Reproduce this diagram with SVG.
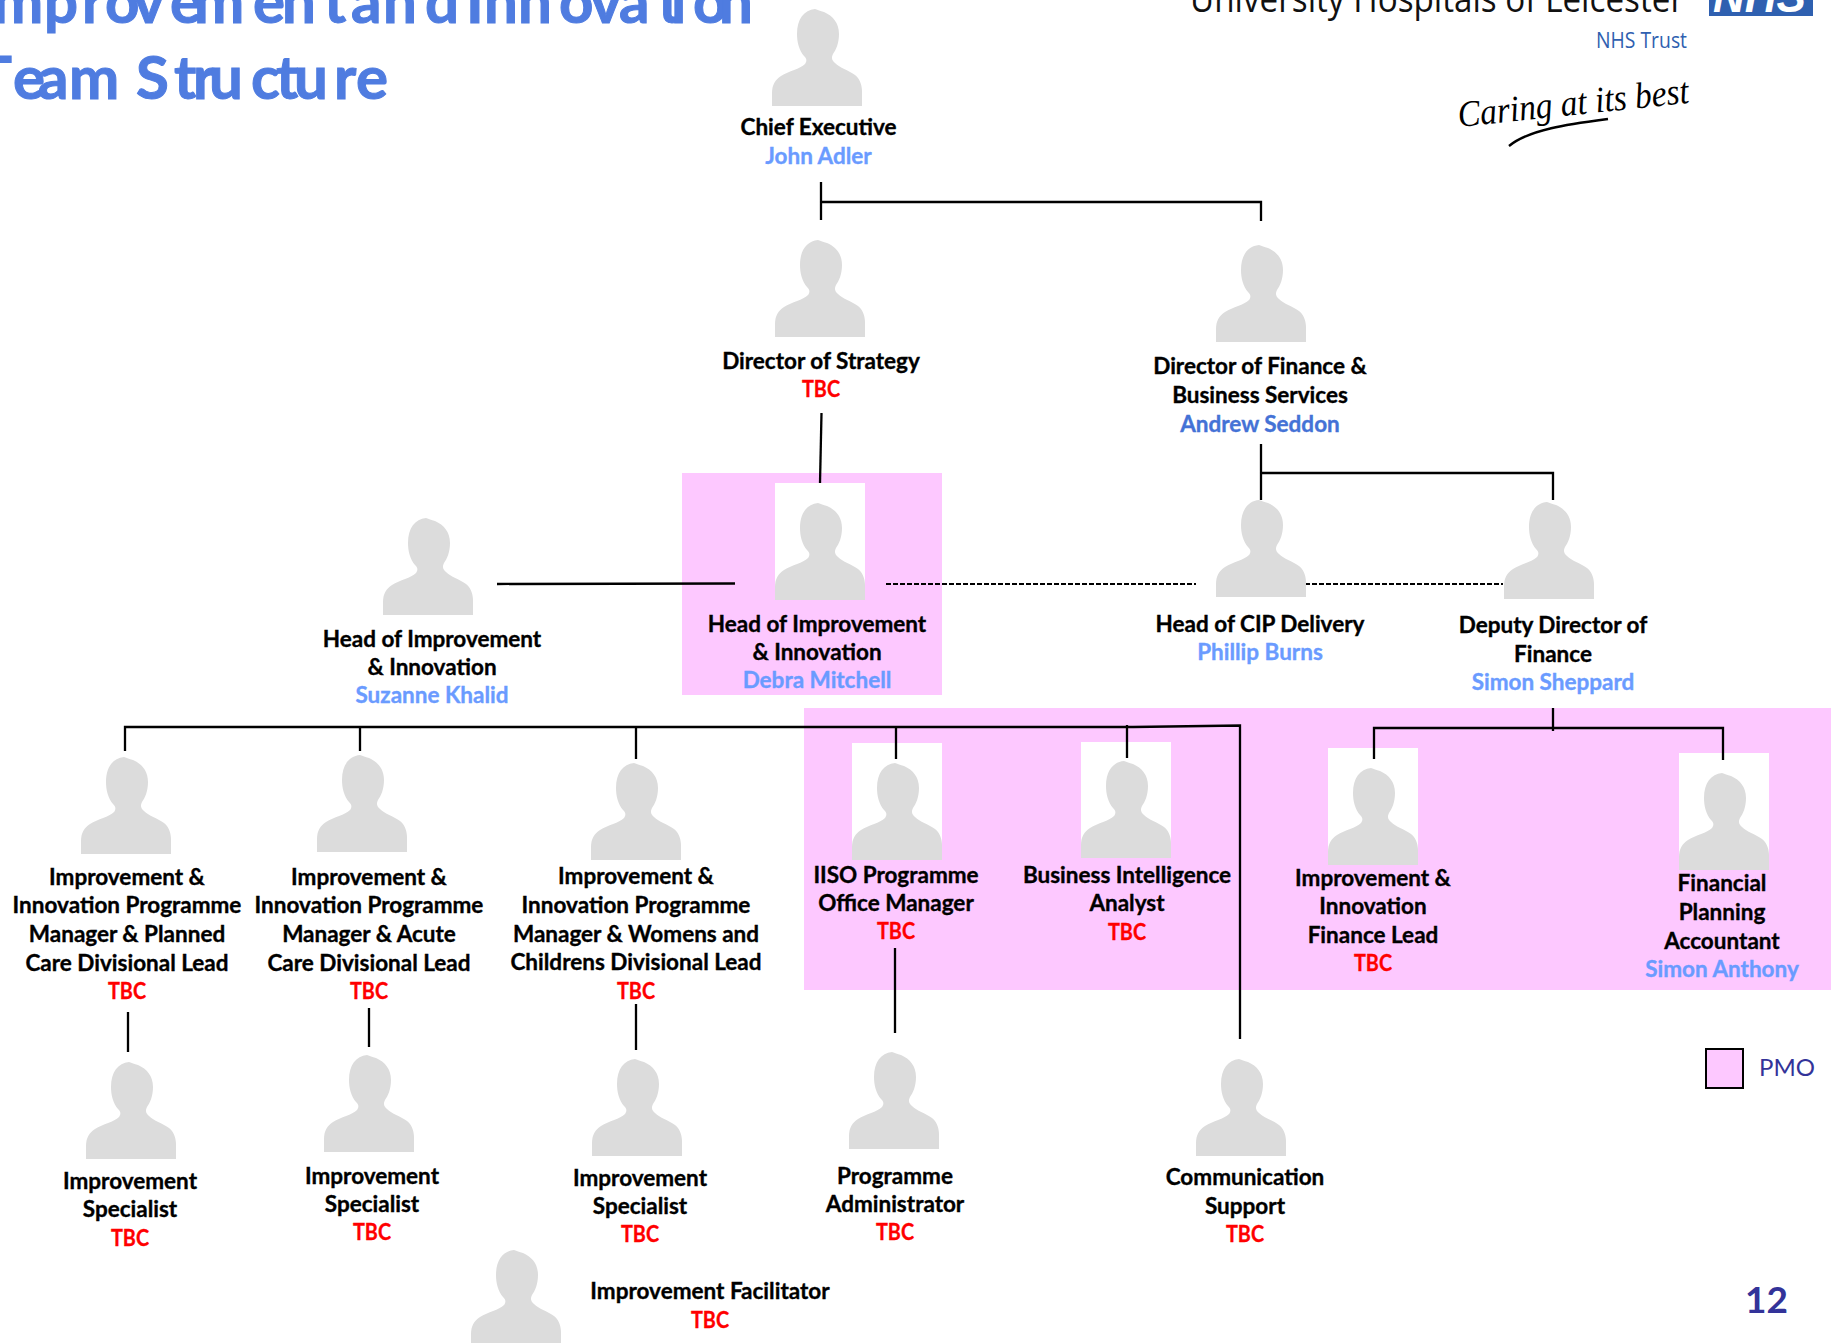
<svg xmlns="http://www.w3.org/2000/svg" width="1831" height="1343" viewBox="0 0 1831 1343">
<style>
text{font-family:"Lato","Liberation Sans",sans-serif}
.t,.r,.n,.d{font-size:22.5px;font-weight:700;text-anchor:middle;stroke-width:.35px}
.t{fill:#000;stroke:#000}.r{fill:#f00;stroke:#f00}.n{fill:#6a9bff;stroke:#6a9bff}.d{fill:#4472d6;stroke:#4472d6}
.c{stroke:#000;stroke-width:2.3;fill:none}
.dash{stroke:#000;stroke-width:1.8;fill:none;stroke-dasharray:5 2}
.p{fill:#fdc8ff}.w{fill:#fff}
.title{font-size:60px;font-weight:700;fill:#4f7ce0;stroke:#4f7ce0;stroke-width:1px}
</style>
<defs>
<path id="sil" fill="#dcdcdc" d="M0 97V84C0 76 3 71 9 67C17 62 28 60 33 55C35 52 35 50 32 47C27 41 25 33 25 25C25 10 32 1 43 0C46 1 48 2 52 3C61 7 67 14 67 25C67 34 64 41 61 45C59 49 60 51 63 54C68 59 76 61 83 66C87 69 90 75 90 82V97Z"/>
</defs>
<rect width="1831" height="1343" fill="#fff"/>
<g id="backgrounds">
<rect class="p" x="682" y="473" width="260" height="222"/>
<rect class="p" x="804" y="708" width="1027" height="282"/>
<rect class="w" x="775" y="483" width="90" height="117"/>
<rect class="w" x="852" y="743" width="90" height="117"/>
<rect class="w" x="1081" y="742" width="90" height="116"/>
<rect class="w" x="1328" y="748" width="90" height="117"/>
<rect class="w" x="1679" y="753" width="90" height="117"/>
</g>
<g id="header">
<text class="title" x="-22 -7 44 82 105 133 170 194 253 282 324 345 351 383 425 460 466 484 518 559 590 619 658 671 693 719" y="23">Improvement and Innovation</text>
<text class="title" x="-24 13 38 69 120 136 174 193 209 251 276 294 334 356" y="99">Team Structure</text>
<text x="1190" y="12" font-size="36" fill="#111" style="font-family:'Open Sans',sans-serif" textLength="494" lengthAdjust="spacingAndGlyphs">University Hospitals of Leicester</text>
<rect x="1709" y="-10" width="104" height="26" fill="#2f60b0"/>
<text x="1713" y="12" font-size="46" font-weight="700" font-style="italic" fill="#fff" style="font-family:'Liberation Sans',sans-serif" textLength="93" lengthAdjust="spacingAndGlyphs">NHS</text>
<text x="1596" y="48" font-size="21" fill="#2f60b0" style="font-family:'Open Sans',sans-serif" textLength="91" lengthAdjust="spacingAndGlyphs">NHS Trust</text>
<text transform="translate(1459 127) rotate(-6)" font-size="37" font-style="italic" fill="#000" style="font-family:'Liberation Serif',serif" textLength="232" lengthAdjust="spacingAndGlyphs">Caring at its best</text>
<path d="M1509 146C1530 129 1570 124 1608 119" stroke="#000" stroke-width="2.4" fill="none"/>
</g>
<g id="connectors">
<path class="c" d="M821 182V220M821 202H1261V221"/>
<path class="c" d="M821.500 413L820 483"/>
<path class="c" d="M497 584L735 583.500"/>
<path class="dash" d="M886 584H1196M1305 584H1503"/>
<path class="c" d="M1261 444V500M1261 473H1553V500"/>
<path class="c" d="M125 751V727H1133L1240 725.500V1039M360 727V751M636 727V759M896 727V759M1127 725V758"/>
<path class="c" d="M1553 708V731M1374 759V728H1723V760"/>
<path class="c" d="M128 1012V1052M369 1008V1047M636 1004V1050M895 948V1033"/>
</g>
<g id="n-chief"><use href="#sil" x="772" y="9"/><text class="t" x="818.500" y="135">Chief Executive</text><text class="n" x="818.500" y="164">John Adler</text></g>
<g id="n-strategy"><use href="#sil" x="775" y="240"/><text class="t" x="821" y="369">Director of Strategy</text><text class="r" x="821" y="397" textLength="38" lengthAdjust="spacingAndGlyphs">TBC</text></g>
<g id="n-finance"><use href="#sil" x="1216" y="245"/><text class="t" x="1260" y="374">Director of Finance &amp;</text><text class="t" x="1260" y="403">Business Services</text><text class="d" x="1260" y="432">Andrew Seddon</text></g>
<g id="n-suzanne"><use href="#sil" x="383" y="518"/><text class="t" x="432" y="647">Head of Improvement</text><text class="t" x="432" y="675">&amp; Innovation</text><text class="n" x="432" y="703">Suzanne Khalid</text></g>
<g id="n-debra"><use href="#sil" x="775" y="503"/><text class="t" x="817" y="632">Head of Improvement</text><text class="t" x="817" y="660">&amp; Innovation</text><text class="n" x="817" y="688">Debra Mitchell</text></g>
<g id="n-cip"><use href="#sil" x="1216" y="500"/><text class="t" x="1260" y="632">Head of CIP Delivery</text><text class="n" x="1260" y="660">Phillip Burns</text></g>
<g id="n-deputy"><use href="#sil" x="1504" y="502"/><text class="t" x="1553" y="633">Deputy Director of</text><text class="t" x="1553" y="662">Finance</text><text class="n" x="1553" y="690">Simon Sheppard</text></g>
<g id="n-planned"><use href="#sil" x="81" y="757"/><text class="t" x="127" y="885">Improvement &amp;</text><text class="t" x="127" y="913">Innovation Programme</text><text class="t" x="127" y="942">Manager &amp; Planned</text><text class="t" x="127" y="971">Care Divisional Lead</text><text class="r" x="127" y="999" textLength="38" lengthAdjust="spacingAndGlyphs">TBC</text></g>
<g id="n-acute"><use href="#sil" x="317" y="755"/><text class="t" x="369" y="885">Improvement &amp;</text><text class="t" x="369" y="913">Innovation Programme</text><text class="t" x="369" y="942">Manager &amp; Acute</text><text class="t" x="369" y="971">Care Divisional Lead</text><text class="r" x="369" y="999" textLength="38" lengthAdjust="spacingAndGlyphs">TBC</text></g>
<g id="n-womens"><use href="#sil" x="591" y="763"/><text class="t" x="636" y="884">Improvement &amp;</text><text class="t" x="636" y="913">Innovation Programme</text><text class="t" x="636" y="942">Manager &amp; Womens and</text><text class="t" x="636" y="970">Childrens Divisional Lead</text><text class="r" x="636" y="999" textLength="38" lengthAdjust="spacingAndGlyphs">TBC</text></g>
<g id="n-iiso"><use href="#sil" x="852" y="763"/><text class="t" x="896" y="883">IISO Programme</text><text class="t" x="896" y="911">Office Manager</text><text class="r" x="896" y="939" textLength="38" lengthAdjust="spacingAndGlyphs">TBC</text></g>
<g id="n-bi"><use href="#sil" x="1081" y="761"/><text class="t" x="1127" y="883">Business Intelligence</text><text class="t" x="1127" y="911">Analyst</text><text class="r" x="1127" y="940" textLength="38" lengthAdjust="spacingAndGlyphs">TBC</text></g>
<g id="n-finlead"><use href="#sil" x="1328" y="768"/><text class="t" x="1373" y="886">Improvement &amp;</text><text class="t" x="1373" y="914">Innovation</text><text class="t" x="1373" y="943">Finance Lead</text><text class="r" x="1373" y="971" textLength="38" lengthAdjust="spacingAndGlyphs">TBC</text></g>
<g id="n-finplan"><use href="#sil" x="1679" y="773"/><text class="t" x="1722" y="891">Financial</text><text class="t" x="1722" y="920">Planning</text><text class="t" x="1722" y="949">Accountant</text><text class="n" x="1722" y="977">Simon Anthony</text></g>
<g id="n-spec1"><use href="#sil" x="86" y="1062"/><text class="t" x="130" y="1189">Improvement</text><text class="t" x="130" y="1217">Specialist</text><text class="r" x="130" y="1246" textLength="38" lengthAdjust="spacingAndGlyphs">TBC</text></g>
<g id="n-spec2"><use href="#sil" x="324" y="1055"/><text class="t" x="372" y="1184">Improvement</text><text class="t" x="372" y="1212">Specialist</text><text class="r" x="372" y="1240" textLength="38" lengthAdjust="spacingAndGlyphs">TBC</text></g>
<g id="n-spec3"><use href="#sil" x="592" y="1059"/><text class="t" x="640" y="1186">Improvement</text><text class="t" x="640" y="1214">Specialist</text><text class="r" x="640" y="1242" textLength="38" lengthAdjust="spacingAndGlyphs">TBC</text></g>
<g id="n-admin"><use href="#sil" x="849" y="1052"/><text class="t" x="895" y="1184">Programme</text><text class="t" x="895" y="1212">Administrator</text><text class="r" x="895" y="1240" textLength="38" lengthAdjust="spacingAndGlyphs">TBC</text></g>
<g id="n-comms"><use href="#sil" x="1196" y="1059"/><text class="t" x="1245" y="1185">Communication</text><text class="t" x="1245" y="1214">Support</text><text class="r" x="1245" y="1242" textLength="38" lengthAdjust="spacingAndGlyphs">TBC</text></g>
<g id="n-facilitator"><use href="#sil" x="471" y="1250"/><text class="t" x="710" y="1299">Improvement Facilitator</text><text class="r" x="710" y="1328" textLength="38" lengthAdjust="spacingAndGlyphs">TBC</text></g>
<g id="legend"><rect class="p" x="1706" y="1049" width="37" height="39" stroke="#000" stroke-width="2"/><text x="1759" y="1076" font-size="24" fill="#333399">PMO</text></g>
<text id="page" x="1745" y="1313" font-size="37" font-weight="700" fill="#333399">12</text>
</svg>
